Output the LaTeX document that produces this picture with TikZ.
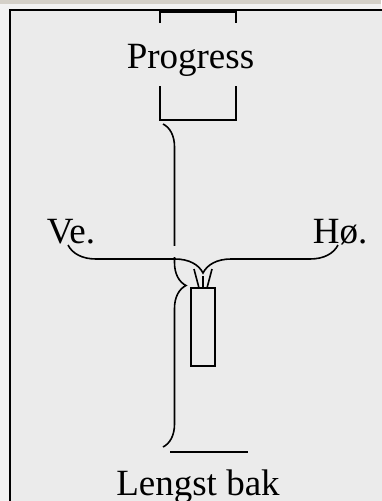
\documentclass[tikz,border=0pt]{standalone}
\usepackage{fontspec}
\setmainfont{Liberation Serif}
\usetikzlibrary{decorations.pathreplacing}
\usetikzlibrary{positioning}
\definecolor{winbar}{HTML}{D4D0C8}
\definecolor{winbg}{HTML}{F2F2F2}
\definecolor{panel}{HTML}{EBEBEB}

\begin{document}
\begin{tikzpicture}[x=1pt,y=-1pt,line width=1.6pt,
		txt/.style={inner sep=0pt,anchor=base,font=\fontsize{37}{44}\selectfont},
		curly/.style={decorate,decoration={brace,amplitude=#1}}]
		\useasboundingbox (0,0) rectangle (381,501);
		\fill[winbg] (0,0) rectangle (381,501);
		\fill[winbar] (0,0) rectangle (381,4);
		\filldraw[fill=panel,draw=black,line width=2.2pt] (10,10) rectangle (390,510);

		\node[txt] (progress) at (190.5,68) {Progress};
		\node[txt,anchor=base west] (ve) at (46,243) {Ve.};
		\node[txt,anchor=base west] (ho) at (312,243) {Hø.};
		\node[txt] (bak) at (198,495) {Lengst bak};

		\draw (160,23) -- (160,12) -- (236,12) -- (236,23);
		\draw (160,86) -- (160,120) -- (236,120) -- (236,86);

		\draw[curly=23] (163,124) -- (163,447);
		\fill[panel] (168,246) rectangle (182,256.5);
		\draw[curly=28] (338,245) -- (68,245);

		\draw (194,269) -- (199,288);
		\draw (203,276) -- (203,288);
		\draw (212,269) -- (207,288);
		\draw (191,288) rectangle (215,366);

		\draw (170,452) -- (248,452);
		\end{tikzpicture}
\end{document}
